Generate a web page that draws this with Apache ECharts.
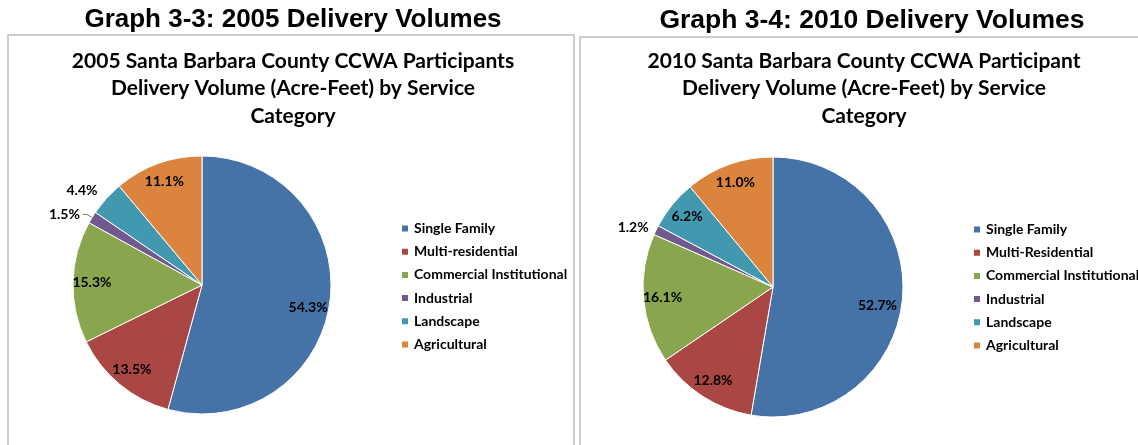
<!DOCTYPE html>
<html><head><meta charset="utf-8">
<script src="https://cdn.jsdelivr.net/npm/echarts@6/dist/echarts.min.js"></script>
<style>html,body{margin:0;padding:0;background:#fff}#c{width:1138px;height:445px}</style>
</head><body><div id="c"></div>
<script>
// ---- data ----
const categories2005 = ['Single Family','Multi-residential','Commercial Institutional','Industrial','Landscape','Agricultural'];
const categories2010 = ['Single Family','Multi-Residential','Commercial Institutional','Industrial','Landscape','Agricultural'];
const values2005 = [54.3, 13.5, 15.3, 1.5, 4.4, 11.1];
const values2010 = [52.7, 12.8, 16.1, 1.2, 6.2, 11.0];
const heading2005 = 'Graph 3-3: 2005 Delivery Volumes';
const heading2010 = 'Graph 3-4: 2010 Delivery Volumes';
const title2005 = '2005 Santa Barbara County CCWA Participants\nDelivery Volume (Acre-Feet) by Service\nCategory';
const title2010 = '2010 Santa Barbara County CCWA Participant\nDelivery Volume (Acre-Feet) by Service\nCategory';

// ---- styles ----
const colors = ['#4572A7','#AA4643','#89A54E','#71588F','#4198AF','#DB843D'];
const FONT = 'Lato';
const labelFont = {fontFamily: FONT, fontWeight: 'bold', fontSize: 14, color: '#000'};
const fmt = p => Number(p.value).toFixed(1) + '%';

function pieSeries(center, r, cats, vals, outside, offsets) {
  const main = {
    type: 'pie', center: center, radius: r, startAngle: 90, clockwise: true,
    avoidLabelOverlap: false, animation: false, z: 2,
    itemStyle: {borderColor: '#fff', borderWidth: 1},
    emphasis: {disabled: true},
    label: Object.assign({show: false, formatter: fmt}, labelFont),
    data: cats.map((n, i) => {
      const d = {name: n, value: vals[i], itemStyle: {color: colors[i]}};
      if (outside[i]) {
        const o = outside[i];
        d.label = {show: true, position: 'outside', distanceToLabelLine: o.dist};
        d.labelLine = {show: o.line, length: o.len, length2: o.len2, smooth: false,
          lineStyle: {color: '#555', width: 0.8}};
      }
      return d;
    })
  };
  const inner = {
    type: 'pie', center: center, radius: r * 1.66, startAngle: 90, clockwise: true,
    avoidLabelOverlap: false, animation: false, silent: true, z: 3,
    itemStyle: {color: 'rgba(0,0,0,0)', borderWidth: 0},
    emphasis: {disabled: true},
    labelLine: {show: false},
    label: Object.assign({show: true, position: 'inside', formatter: fmt}, labelFont),
    data: cats.map((n, i) => ({name: n, value: vals[i],
      label: {show: !outside[i], offset: offsets[i] || [0, 0]},
      itemStyle: {color: 'rgba(0,0,0,0)'}}))
  };
  return [main, inner];
}

const chart = echarts.init(document.getElementById('c'), null, {renderer: 'canvas'});
const titleBase = {fontFamily: FONT, fontWeight: 'bold', fontSize: 21, color: '#000', lineHeight: 27.5};
const headBase = {fontFamily: 'Liberation Sans', fontWeight: 'bold', fontSize: 26, color: '#000'};
const legendBase = {
  orient: 'vertical', icon: 'rect', itemWidth: 8, itemHeight: 8, itemGap: 8.2,
  padding: 0, selectedMode: false,
  textStyle: {fontFamily: FONT, fontWeight: 'bold', fontSize: 14, lineHeight: 15, color: '#000'}
};

chart.setOption({
  animation: false,
  backgroundColor: '#fff',
  graphic: [
    {type: 'rect', z: 0, shape: {x: 8, y: 35, width: 566, height: 440},
      style: {fill: 'none', stroke: '#bdbdbd', lineWidth: 1.5}},
    {type: 'rect', z: 0, shape: {x: 580, y: 37, width: 600, height: 440},
      style: {fill: 'none', stroke: '#bdbdbd', lineWidth: 1.5}}
  ],
  title: [
    {text: heading2005, left: 288, top: 2, textAlign: 'center', textStyle: headBase},
    {text: heading2010, left: 867, top: 2, textAlign: 'center',
      textStyle: Object.assign({}, headBase, {fontSize: 26.5})},
    {text: title2005, left: 288, top: 42, textAlign: 'center', textStyle: titleBase},
    {text: title2010, left: 859, top: 42, textAlign: 'center', textStyle: titleBase}
  ],
  legend: [
    Object.assign({left: 400, top: 221, data: categories2005}, legendBase),
    Object.assign({left: 972, top: 222, data: categories2010}, legendBase)
  ],
  series: [
    ...pieSeries([202, 285], 129, categories2005, values2005,
      {3: {len: 6, len2: 4, dist: 3, line: true}, 4: {len: 12, len2: 0, dist: 0, line: false}},
      {0: [-3, 8]}),
    ...pieSeries([773, 287], 130, categories2010, values2010,
      {3: {len: 6, len2: 0, dist: 2, line: false}},
      {0: [-6, 9]})
  ]
});
</script>
</body></html>
